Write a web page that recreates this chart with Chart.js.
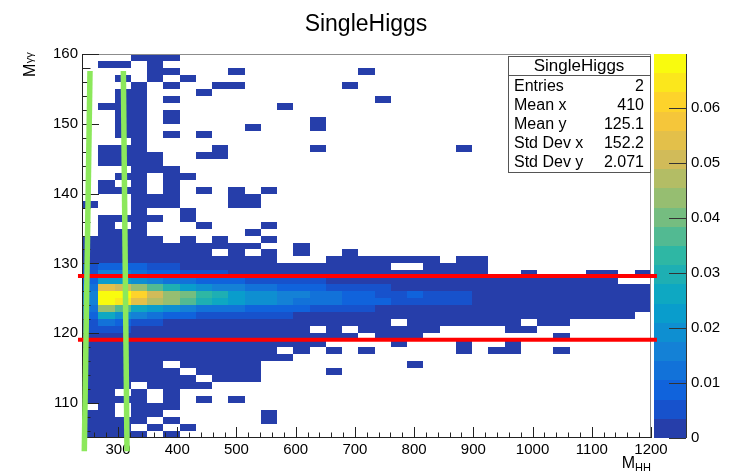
<!DOCTYPE html>
<html><head><meta charset="utf-8">
<script src="https://cdn.jsdelivr.net/npm/chart.js@4.4.0/dist/chart.umd.min.js"></script>
<style>html,body{margin:0;padding:0;background:#fff;}</style>
</head><body>
<canvas id="c" width="732" height="473"></canvas>
<script>
// ---------------- data ----------------
const TITLE = 'SingleHiggs';
const X_RANGE = [239.2, 1200];   // M_HH axis range
const Y_RANGE = [105, 160];      // M_gg axis range
const N_XBINS = 35;
const N_YBINS = 55;
const Z_MAX = 0.0698;            // top of colour scale
const N_CONTOURS = 20;
const xTickValues = [300, 400, 500, 600, 700, 800, 900, 1000, 1100, 1200];
const yTickValues = [110, 120, 130, 140, 150, 160];
const zTickValues = [0, 0.01, 0.02, 0.03, 0.04, 0.05, 0.06];
// Colour level of each cell.
// Rows from top (M_gg 159-160) to bottom (105-106); columns left to right.
// '.' = empty bin, 0-9,a-j = contour level 0..19 (base 36). Spaces only group columns by five.
const cellLevels = [
  "...00 0",
  ".00.0",
  "....0 0...0 ..... ..0",
  "..0.0 .0",
  "...0. 0..00 ..... .0",
  "..00. ..0",
  "..00. 0.... ..... ...0",
  ".000. ..... ..0",
  "..00. 0",
  "..00. 0.... ....0",
  "..00. ..... 0...0",
  "..00. 0.0",
  "...0",
  ".000. ...0. ....0 ..... ...0",
  ".0000 ..00",
  ".0000",
  "...00 0",
  "..00. 00",
  ".0.0. 0",
  ".000. 0.0.0 .0",
  "...00 0...0 0",
  "0..00 0...0 0",
  "...0. .0",
  ".0000 .0",
  ".0.0. ..0.. .0",
  ".000. ..... 0",
  "00000 .0.0. .0",
  "00000 00000 0..0",
  "00000 000.0 .0.0. .0",
  "00000 00000 00... 00000 00.00",
  "12221 10000 00000 0000. .0000",
  "14432 21110 00000 00000 00000 ..0.. .00.0",
  "26654 33222 11111 00000 00000 00000 000",
  "3feca 86544 33222 11110 00000 00000 00000",
  "4jjhe cb986 55443 32211 21110 00000 00000",
  "4jifd ca876 55433 32221 11110 00000 00000",
  "3ca76 54333 22221 11100 00000 00000 00000",
  "27543 22111 11100 00000 00000 00000 0000",
  "13211 00000 00000 0000. 00000 00.00",
  "11100 00000 0000. 0.000 00... .00",
  "00000 00000 00000 00.00 0.... ....0",
  "00000 00000 00000 ....0 ...0. .0",
  "00000 00000 00.0. 0.0.. ...0. 00..0",
  "00000 00000 000",
  "00000 .0000 0.... ..... 0",
  "00000 0.000 0.... 0",
  "00000 00.00 0",
  "000.0 000",
  "00.0. 0",
  "0000. 0.0.0",
  ".0.00 0",
  "00.00 ..... .0",
  "0000. 0.... .0",
  "000.0 .0",
  "0000. 0"
];
const cutLineValuesY = [128.2, 119.07];          // red horizontal lines
const cutLineSpanX = [232.4, 1210];
const greenLineA = [{x: 243.1, y: 103.1}, {x: 252.7, y: 157.56}];
const greenLineB = [{x: 309.0, y: 157.56}, {x: 315.2, y: 103.1}];
const statsLabels = ['Entries', 'Mean x', 'Mean y', 'Std Dev x', 'Std Dev y'];
const statsValues = ['2', '410', '125.1', '152.2', '2.071'];

// ---------------- styling helpers ----------------
const FONT = "'Liberation Sans', Arial, Helvetica, sans-serif";
const BIRD_STOPS = [0, 0.125, 0.25, 0.375, 0.5, 0.625, 0.75, 0.875, 1];
const BIRD_R = [0.2082, 0.0592, 0.0780, 0.0232, 0.1802, 0.5301, 0.8186, 0.9956, 0.9764];
const BIRD_G = [0.1664, 0.3599, 0.5041, 0.6419, 0.7178, 0.7492, 0.7328, 0.7862, 0.9832];
const BIRD_B = [0.5293, 0.8684, 0.8385, 0.7914, 0.6425, 0.4662, 0.3499, 0.1968, 0.0539];
function birdColor(f) {
  let i = 0;
  while (i < 7 && f > BIRD_STOPS[i + 1]) i++;
  const t = (f - BIRD_STOPS[i]) / (BIRD_STOPS[i + 1] - BIRD_STOPS[i]);
  const c = a => Math.round(255 * (a[i] + t * (a[i + 1] - a[i])));
  return `rgb(${c(BIRD_R)},${c(BIRD_G)},${c(BIRD_B)})`;
}
function levelColor(k) { return birdColor((k + 1) / N_CONTOURS); }

const xw = (X_RANGE[1] - X_RANGE[0]) / N_XBINS;
const yw = (Y_RANGE[1] - Y_RANGE[0]) / N_YBINS;
const heatData = [];
cellLevels.forEach((row, r) => {
  const s = row.replace(/ /g, '').padEnd(N_XBINS, '.');
  for (let c = 0; c < N_XBINS; c++) {
    const ch = s[c];
    if (ch === '.') continue;
    const lvl = parseInt(ch, 36);
    heatData.push({x: X_RANGE[0] + (c + 0.5) * xw, y: Y_RANGE[1] - (r + 0.5) * yw,
                   v: (lvl + 0.5) / N_CONTOURS * Z_MAX});
  }
});

const rootPlugin = {
  id: 'rootPlugin',
  beforeDatasetsDraw(chart) {
    const {ctx, chartArea: a, scales} = chart;
    const xs = scales.x, ys = scales.y, zs = scales.z;
    ctx.save();
    const ds = chart.data.datasets.find(d => d.isHeat);
    for (const p of ds.data) {
      const x0 = Math.round(xs.getPixelForValue(p.x - xw / 2));
      const x1 = Math.round(xs.getPixelForValue(p.x + xw / 2));
      const y0 = Math.round(ys.getPixelForValue(p.y + yw / 2));
      const y1 = Math.round(ys.getPixelForValue(p.y - yw / 2));
      const k = Math.min(N_CONTOURS - 1, Math.floor(p.v / Z_MAX * N_CONTOURS));
      ctx.fillStyle = levelColor(k);
      ctx.fillRect(x0, y0, x1 - x0, y1 - y0);
    }
    ctx.lineWidth = 1;
    ctx.strokeStyle = '#8c8c8c';
    ctx.strokeRect(a.left + 0.5, a.top + 0.5, a.right - a.left - 1, a.bottom - a.top - 1);
    ctx.strokeStyle = '#222';
    ctx.beginPath();
    ctx.moveTo(a.left + 0.5, a.top); ctx.lineTo(a.left + 0.5, a.bottom);
    ctx.moveTo(a.left, a.bottom - 0.5); ctx.lineTo(a.right, a.bottom - 0.5);
    for (let v = Math.ceil(X_RANGE[0] / 20) * 20; v <= X_RANGE[1]; v += 20) {
      const px = Math.round(xs.getPixelForValue(v)) + 0.5;
      const len = (v % 100 === 0) ? 11 : 5.5;
      ctx.moveTo(px, a.bottom); ctx.lineTo(px, a.bottom - len);
    }
    for (let v = Math.ceil(Y_RANGE[0] / 2) * 2; v <= Y_RANGE[1]; v += 2) {
      const py = Math.round(ys.getPixelForValue(v)) + 0.5;
      const len = (v % 10 === 0) ? 17 : 8.5;
      ctx.moveTo(a.left, py); ctx.lineTo(a.left + len, py);
    }
    ctx.stroke();
    const cbL = 654, cbR = 686;
    for (let k = 0; k < N_CONTOURS; k++) {
      const yT = Math.round(zs.getPixelForValue((k + 1) * Z_MAX / N_CONTOURS));
      const yB = Math.round(zs.getPixelForValue(k * Z_MAX / N_CONTOURS));
      ctx.fillStyle = levelColor(k);
      ctx.fillRect(cbL, yT, cbR - cbL, yB - yT);
    }
    ctx.strokeStyle = '#333';
    ctx.beginPath();
    ctx.moveTo(cbR + 0.5, zs.top); ctx.lineTo(cbR + 0.5, zs.bottom);
    for (const v of zTickValues) {
      const py = Math.round(zs.getPixelForValue(v)) + 0.5;
      ctx.moveTo(cbR, py); ctx.lineTo(cbR - 17, py);
    }
    ctx.stroke();
    ctx.restore();
  },
  afterDatasetsDraw(chart) {
    const {ctx} = chart;
    ctx.save();
    const bx = 508, by = 56, bw = 142, bh = 116;
    ctx.fillStyle = '#fff';
    ctx.fillRect(bx, by, bw, bh);
    ctx.strokeStyle = '#555';
    ctx.lineWidth = 1;
    ctx.strokeRect(bx + 0.5, by + 0.5, bw, bh);
    ctx.beginPath(); ctx.moveTo(bx, 75.5); ctx.lineTo(bx + bw, 75.5); ctx.stroke();
    ctx.fillStyle = '#000';
    ctx.textBaseline = 'middle';
    ctx.font = `17px ${FONT}`;
    ctx.textAlign = 'center';
    ctx.fillText(TITLE, bx + bw / 2, 66);
    ctx.font = `16px ${FONT}`;
    statsLabels.forEach((lab, i) => {
      const yy = 86.5 + i * 18.9;
      ctx.textAlign = 'left'; ctx.fillText(lab, 514, yy);
      ctx.textAlign = 'right'; ctx.fillText(statsValues[i], 644, yy);
    });
    // chart title
    ctx.textAlign = 'center';
    ctx.textBaseline = 'alphabetic';
    ctx.font = `23px ${FONT}`;
    ctx.fillText(TITLE, 366, 31);
    // x axis title M_HH
    ctx.textAlign = 'right';
    ctx.font = `11px ${FONT}`;
    ctx.fillText('HH', 651, 471);
    const wHH = ctx.measureText('HH').width;
    ctx.font = `16px ${FONT}`;
    ctx.fillText('M', 651 - wHH, 468);
    // y axis title M_gg (rotated)
    ctx.translate(35, 77);
    ctx.rotate(-Math.PI / 2);
    ctx.textAlign = 'left';
    ctx.font = `16px ${FONT}`;
    ctx.fillText('M', 0, 0);
    const wM = ctx.measureText('M').width;
    ctx.font = `11px ${FONT}`;
    ctx.fillText('γγ', wM + 0.5, -2);
    ctx.restore();
  }
};

const tickFont = {family: FONT, size: 15};
new Chart(document.getElementById('c'), {
  type: 'scatter',
  data: {
    datasets: [
      {label: 'cut A', data: greenLineA, showLine: true, borderColor: '#8ce85c', borderWidth: 5.5,
       borderCapStyle: 'butt', pointRadius: 0, clip: false},
      {label: 'cut B', data: greenLineB, showLine: true, borderColor: '#8ce85c', borderWidth: 5.5,
       borderCapStyle: 'butt', pointRadius: 0, clip: false},
      ...cutLineValuesY.map(v => ({label: 'y=' + v, data: cutLineSpanX.map(x => ({x, y: v})),
        showLine: true, borderColor: '#ff0000', borderWidth: 4, pointRadius: 0, clip: false})),
      {label: 'SingleHiggs', isHeat: true, data: heatData, pointRadius: 0, pointHoverRadius: 0}
    ]
  },
  options: {
    responsive: false,
    animation: false,
    events: [],
    layout: {padding: {top: 54, left: 0, right: 0, bottom: 0}},
    plugins: {
      legend: {display: false},
      tooltip: {enabled: false},
      title: {display: false}
    },
    scales: {
      x: {type: 'linear', position: 'bottom', min: X_RANGE[0], max: X_RANGE[1],
          afterBuildTicks: s => { s.ticks = xTickValues.map(v => ({value: v})); },
          afterFit: s => { s.height = 35; s.paddingLeft = 0; s.paddingRight = 0; s.paddingTop = 0; s.paddingBottom = 0; },
          grid: {display: false, drawTicks: false}, border: {display: false},
          ticks: {font: tickFont, color: '#000', padding: 3, maxRotation: 0, autoSkip: false,
                  callback: v => String(v)}},
      y: {type: 'linear', position: 'left', min: Y_RANGE[0], max: Y_RANGE[1],
          afterBuildTicks: s => { s.ticks = yTickValues.map(v => ({value: v})); },
          afterFit: s => { s.width = 82; s.paddingTop = 0; s.paddingBottom = 0; },
          grid: {display: false, drawTicks: false}, border: {display: false},
          ticks: {font: tickFont, color: '#000', padding: 4, autoSkip: false, callback: v => String(v)}},
      z: {type: 'linear', position: 'right', min: 0, max: Z_MAX,
          afterBuildTicks: s => { s.ticks = zTickValues.map(v => ({value: v})); },
          afterFit: s => { s.width = 81; s.paddingTop = 0; s.paddingBottom = 0; },
          grid: {display: false, drawTicks: false}, border: {display: false},
          ticks: {font: tickFont, color: '#000', padding: 40, autoSkip: false,
                  callback: v => v === 0 ? '0' : v.toFixed(2)}}
    }
  },
  plugins: [rootPlugin]
});
</script>
</body></html>
